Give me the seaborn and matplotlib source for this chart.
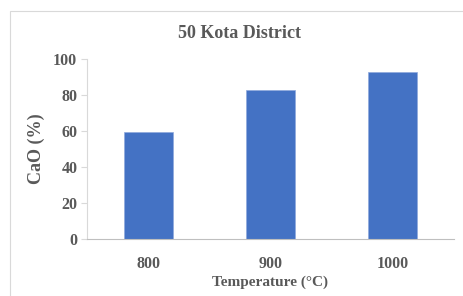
import matplotlib
matplotlib.use("Agg")
import matplotlib.pyplot as plt
import seaborn as sns
import pandas as pd
from matplotlib.patches import Rectangle

# data
temperatures = ["800", "900", "1000"]
cao_percent = [59.5, 83, 93]

df = pd.DataFrame({"Temperature": temperatures, "CaO": cao_percent})

sns.set_theme(style="white")
plt.rcParams["font.family"] = ["Liberation Serif", "DejaVu Serif"]
plt.rcParams["font.weight"] = "bold"

text_color = "#595959"

fig = plt.figure(figsize=(4.63, 2.96), dpi=100)
ax = fig.add_axes([87 / 463, 1 - 239 / 296, 367 / 463, 180 / 296])

sns.barplot(data=df, x="Temperature", y="CaO", color="#4472C4", width=0.4,
            saturation=1, edgecolor="#8fa9dc", linewidth=0.5, ax=ax)

ax.set_ylim(0, 100)
ax.set_xlim(-0.5, 2.5)
ax.set_yticks([0, 20, 40, 60, 80, 100])
ax.tick_params(axis="y", left=True, length=4, width=0.8, color="#d9d9d9",
               labelsize=11.5, labelcolor=text_color, pad=3)
ax.tick_params(axis="x", bottom=False, labelsize=11.5, labelcolor=text_color, pad=6)
for lab in ax.get_xticklabels() + ax.get_yticklabels():
    lab.set_fontweight("bold")

for s in ["top", "right"]:
    ax.spines[s].set_visible(False)
ax.spines["left"].set_color("#d9d9d9")
ax.spines["bottom"].set_color("#bfbfbf")
ax.spines["left"].set_linewidth(0.8)
ax.spines["bottom"].set_linewidth(0.8)

ax.set_xlabel("Temperature (°C)", fontsize=11, fontweight="bold", color=text_color, labelpad=3)
ax.set_ylabel("CaO (%)", fontsize=13, fontweight="bold", color=text_color, labelpad=6)

fig.text(239 / 463, 1 - 33 / 296, "50 Kota District", ha="center", va="center",
         fontsize=13, fontweight="bold", color=text_color)

# chart frame
fig.add_artist(Rectangle((9.5 / 463, -0.05), 1.0, 1 - 11 / 296 + 0.05,
                         transform=fig.transFigure, fill=False,
                         edgecolor="#d9d9d9", linewidth=0.8))

fig.savefig("out.png", dpi=100)
